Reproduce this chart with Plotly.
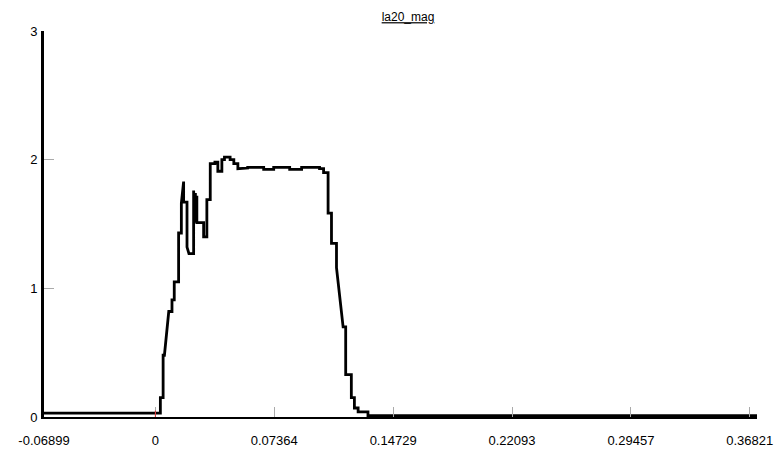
import plotly.graph_objects as go

# Vertices of the stepped trace
x_vals = [-0.06899, 0.0031, 0.0031, 0.0048, 0.0048, 0.0056, 0.0083, 0.0103, 0.0103, 0.0117,
          0.0117, 0.0144, 0.0144, 0.0161, 0.0161, 0.0175, 0.0175, 0.0196, 0.0196, 0.0208,
          0.0237, 0.0237, 0.0243, 0.0248, 0.0250, 0.0257, 0.0257, 0.0299, 0.0299, 0.0319,
          0.0319, 0.0340, 0.0340, 0.0369, 0.0369, 0.0387, 0.0387, 0.0412, 0.0412, 0.0428,
          0.0428, 0.0463, 0.0463, 0.0486, 0.0486, 0.0511, 0.0511, 0.0554, 0.0554, 0.0572,
          0.0572, 0.0671, 0.0671, 0.0733, 0.0733, 0.0832, 0.0832, 0.0906, 0.0906, 0.1017,
          0.1017, 0.1042, 0.1042, 0.1070, 0.1070, 0.1091, 0.1091, 0.1122, 0.1122, 0.1163,
          0.1179, 0.1179, 0.1214, 0.1214, 0.1233, 0.1233, 0.1256, 0.1256, 0.1317, 0.1317,
          0.3727]
y_vals = [0.03, 0.03, 0.15, 0.15, 0.48, 0.48, 0.82, 0.82, 0.91, 0.91,
          1.05, 1.05, 1.43, 1.43, 1.66, 1.83, 1.67, 1.67, 1.32, 1.27,
          1.27, 1.76, 1.51, 1.74, 1.51, 1.72, 1.51, 1.51, 1.40, 1.40,
          1.69, 1.69, 1.97, 1.97, 1.98, 1.98, 1.91, 1.91, 2.00, 2.00,
          2.02, 2.02, 2.00, 2.00, 1.97, 1.97, 1.93, 1.93, 1.935, 1.935,
          1.94, 1.94, 1.925, 1.925, 1.94, 1.94, 1.925, 1.925, 1.94, 1.94,
          1.93, 1.93, 1.90, 1.90, 1.585, 1.585, 1.35, 1.35, 1.16, 0.70,
          0.70, 0.33, 0.33, 0.15, 0.15, 0.07, 0.07, 0.04, 0.04, 0.01,
          0.01]

x_ticks = [-0.06899, 0, 0.07364, 0.14729, 0.22093, 0.29457, 0.36821]
x_tick_labels = ["-0.06899", "0", "0.07364", "0.14729", "0.22093", "0.29457", "0.36821"]
y_ticks = [0, 1, 2, 3]
y_tick_labels = ["0", "1", "2", "3"]
title_text = "la20_mag"

FONT = "Liberation Sans, Arial, sans-serif"

# the page body keeps the browser's 8px margin, so the figure is sized to fit inside it
W, H = 766, 443

fig = go.Figure()
fig.add_trace(go.Scatter(x=x_vals, y=y_vals, mode="lines",
                         line=dict(color="black", width=2.8), hoverinfo="skip",
                         showlegend=False))

# red tick at zero on the x axis
fig.add_shape(type="line", x0=0, x1=0, y0=0, y1=0.05, xref="x", yref="y",
              line=dict(color="#e03030", width=1))

fig.update_layout(
    width=W, height=H,
    margin=dict(l=36, r=17, t=23, b=34, autoexpand=False),
    paper_bgcolor="white", plot_bgcolor="white",
    font=dict(family=FONT, size=13, color="black"),
    title=dict(text="<u>" + title_text + "</u>", x=400 / W, xref="container",
               y=1 - 9 / H, yref="container", xanchor="center", yanchor="middle",
               font=dict(family=FONT, size=12, color="black")),
    showlegend=False,
)
fig.update_xaxes(range=[-0.06899, 0.3727], tickvals=x_ticks, ticktext=x_tick_labels,
                 showgrid=False, zeroline=False, showline=True, linecolor="black",
                 linewidth=2, ticks="inside", ticklen=10, tickcolor="#aaaaaa",
                 tickwidth=1, ticklabelstandoff=10, automargin=False, fixedrange=True)
fig.update_yaxes(range=[0, 3], tickvals=y_ticks, ticktext=y_tick_labels,
                 showgrid=False, zeroline=False, showline=True, linecolor="black",
                 linewidth=3, ticks="inside", ticklen=10, tickcolor="#aaaaaa",
                 tickwidth=1, ticklabelstandoff=1, automargin=False, fixedrange=True)

fig.write_html("out.html")
